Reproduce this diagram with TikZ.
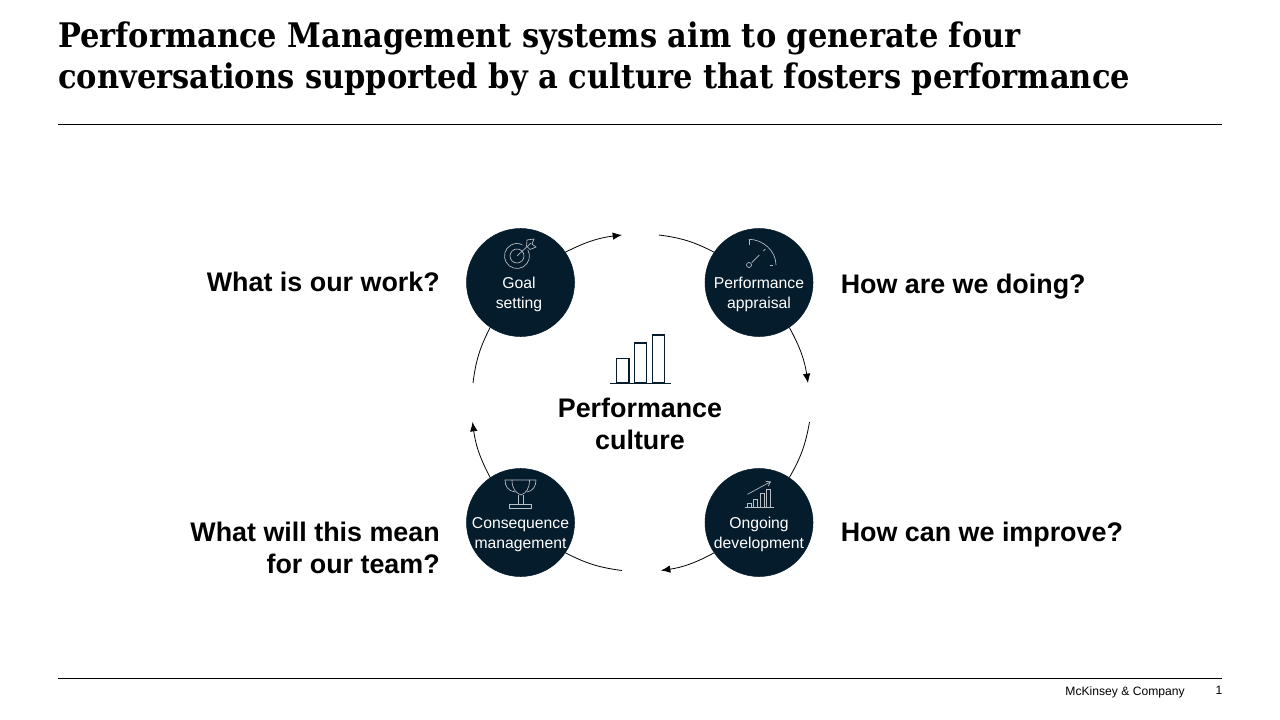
\documentclass[tikz,border=0pt]{standalone}
\usepackage{fontspec}
\setmainfont{Liberation Sans}
\newfontfamily\titlefont{DejaVu Serif Condensed}[BoldFont={* Bold}]
\definecolor{navy}{HTML}{051C2C}
\usetikzlibrary{calc,arrows.meta}

\tikzset{
    bubble/.style={circle, fill=navy, draw=navy, minimum size=81pt, inner sep=0pt},
    bubbletext/.style={anchor=base, align=center, text=white, inner sep=0pt, font=\fontsize{11.8}{14.4}\selectfont},
    question/.style={inner sep=0pt, font=\bfseries\fontsize{20.15}{24}\selectfont},
    icon/.style={draw=white!72!navy, line width=0.5pt},
    flow/.style={draw=black, line width=0.6pt},
    flowtip/.style={flow, -{Latex[length=7pt,width=5.6pt]}},
    rule/.style={draw=black, line width=0.75pt}
}

\begin{document}
\begin{tikzpicture}[x=0.75pt, y=-0.75pt]
    \useasboundingbox (0,0) rectangle (1280,720);
    % Title and rules
    \node [anchor=base west, inner sep=0pt, align=left, font=\titlefont\bfseries\fontsize{25.4}{30.75}\selectfont] (title) at (58,88.5) {Performance Management systems aim to generate four\\conversations supported by a culture that fosters performance};
    \coordinate (ruleAL) at (58,124.5);
    \coordinate (ruleAR) at (1222,124.5);
    \coordinate (ruleBL) at (58,678.5);
    \coordinate (ruleBR) at (1222,678.5);
    \path [rule] (ruleAL) -- (ruleAR);
    \path [rule] (ruleBL) -- (ruleBR);
    \node [anchor=base east, inner sep=0pt, font=\fontsize{9.1}{11}\selectfont] (firm) at (1185,695) {McKinsey \& Company};
    \node [anchor=base, inner sep=0pt, font=\fontsize{9.1}{11}\selectfont] (page) at (1219,694) {1};
    % Place nodes
    \node [bubble] (goal) at (520.5,282.5) {};
    \node [bubble] (appraisal) at (759,282.5) {};
    \node [bubble] (develop) at (759,522.5) {};
    \node [bubble] (conseq) at (520.5,522.5) {};
    \node [bubbletext] (goaltext) at (519,308) {Goal\\setting};
    \node [bubbletext] (appraisaltext) at (759,308) {Performance\\appraisal};
    \node [bubbletext] (developtext) at (759,548) {Ongoing\\development};
    \node [bubbletext] (conseqtext) at (520.5,548) {Consequence\\management};
    % Free ends of the arcs
    \coordinate (gapA) at (622,235);
    \coordinate (gapB) at (659,235);
    \coordinate (gapC) at (808,383);
    \coordinate (gapD) at (809.5,422);
    \coordinate (gapE) at (661,570.5);
    \coordinate (gapF) at (622,570.5);
    \coordinate (gapG) at (472.5,422);
    \coordinate (gapH) at (473,383);
    % Arcs
    \path [flowtip] (goal.34) to [bend left=10] (gapA);
    \path [flow] (gapB) to [bend left=10] (appraisal.146);
    \path [flowtip] (appraisal.304) to [bend left=10] (gapC);
    \path [flow] (gapD) to [bend left=10] (develop.56);
    \path [flowtip] (develop.214) to [bend left=10] (gapE);
    \path [flow] (gapF) to [bend left=10] (conseq.326);
    \path [flowtip] (conseq.124) to [bend left=10] (gapG);
    \path [flow] (gapH) to [bend left=10] (goal.236);
    % Questions
    \node [question, anchor=base east] (qgoal) at (440,291) {What is our work?};
    \node [question, anchor=base west] (qappraisal) at (840.5,293) {How are we doing?};
    \node [question, anchor=base west] (qdevelop) at (840.5,541) {How can we improve?};
    \node [question, anchor=base east, align=right] (qconseq) at (440,573) {What will this mean\\for our team?};
    \node [question, anchor=base, align=center] (culture) at (640,449) {Performance\\culture};
    % Centre bars
    \draw [navy, line width=1pt] (616.5,383) rectangle (629,358.5);
    \draw [navy, line width=1pt] (634.5,383) rectangle (646.5,343);
    \draw [navy, line width=1pt] (652.5,383) rectangle (664.5,335);
    \draw [navy, line width=1pt] (609.5,383.5) -- (671,383.5);
    % Target icon
    \draw [icon] (527.8,249.75) arc [start angle=-30, end angle=295, radius=12.5];
    \draw [icon] (517,256) circle [radius=7];
    \draw [icon] (517,256) -- (531,243);
    \draw [icon] (527,240) -- (526.5,246) -- (530,249.5) -- (536,247) -- (532,244) -- (534,239) -- cycle;
    % Gauge icon
    \draw [icon] (749,265) circle [radius=2.5];
    \draw [icon] (751.7,262.7) -- (759.3,255);
    \draw [icon] (748.7,239.3) .. controls (763,239.3) and (776,251) .. (776,265);
    \draw [icon] (749,240) -- (749,245);
    \draw [icon] (763.3,251) -- (765.3,249);
    \draw [icon] (769.5,265) -- (772.7,265);
    % Trophy icon
    \draw [icon] (512,480) -- (529.5,480) .. controls (529.5,489) and (526,493) .. (521,495) .. controls (516,493) and (512,489) .. (512,480);
    \draw [icon] (512,480) -- (505,480) .. controls (505,486) and (508,491) .. (515,492);
    \draw [icon] (529.5,480) -- (536,480) .. controls (536,486) and (533,491) .. (527,492);
    \draw [icon] (518.5,495) -- (518.5,504.5) (523.5,495) -- (523.5,504.5);
    \draw [icon] (509.5,504.5) rectangle (531.5,508.5);
    % Chart icon
    \draw [icon] (744.5,507.7) -- (773.5,507.7);
    \draw [icon] (747.5,507.7) rectangle (751.5,503.5);
    \draw [icon] (753.5,507.7) rectangle (757.5,499);
    \draw [icon] (760.5,507.7) rectangle (764.5,493.5);
    \draw [icon] (766.5,507.7) rectangle (770.5,489.5);
    \draw [icon, -{Straight Barb[length=3pt,width=4pt]}] (747.5,494.3) -- (771,481.5);
\end{tikzpicture}
\end{document}
